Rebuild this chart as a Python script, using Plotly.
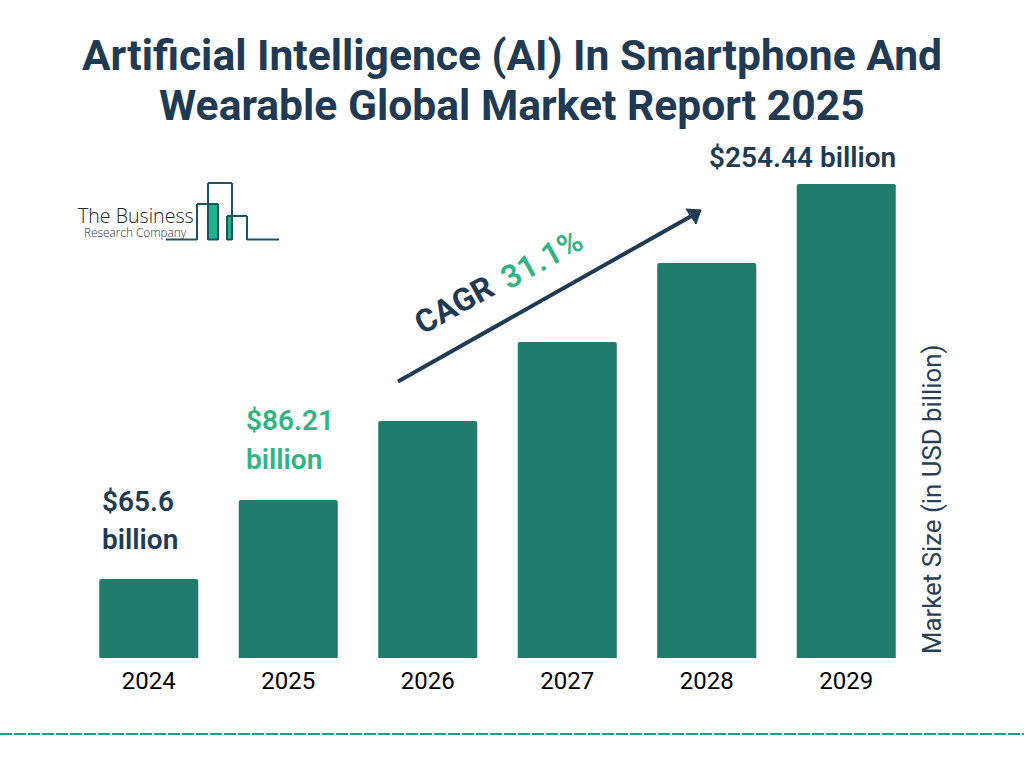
import plotly.graph_objects as go

W, H = 1024, 768

years = ["2024", "2025", "2026", "2027", "2028", "2029"]
# bars in the picture are evenly stepped, not to scale with the labels
bar_heights = [79, 158, 237, 316, 395, 474]
title_lines = ["Artificial Intelligence (AI) In Smartphone And", "Wearable Global Market Report 2025"]
label_2024 = ["$65.6", "billion"]
label_2025 = ["$86.21", "billion"]
label_2029 = "$254.44 billion"
cagr_word = "CAGR"
cagr_value = "31.1%"
y_title = "Market Size (in USD billion)"

NAVY = "#203a54"
BAR = "#217c6b"
GREEN = "#2fb585"
LOGO = "#1f5163"
FONT = "Roboto"


def px(x):
    return x / W


def py(y):
    return 1 - y / H


def text(x, y, s, size, color=NAVY, weight="normal", anchor="center", angle=0, family=FONT):
    return dict(
        x=px(x), y=py(y), xref="paper", yref="paper", text=s, showarrow=False,
        xanchor=anchor, yanchor="middle", textangle=angle,
        font=dict(family=family, size=size, color=color, weight=weight),
    )


def line(x0, y0, x1, y1, color, width):
    return dict(
        type="line", xref="paper", yref="paper",
        x0=px(x0), y0=py(y0), x1=px(x1), y1=py(y1),
        line=dict(color=color, width=width),
    )


def block(x0, y0, x1, y1, color):
    return dict(
        type="rect", xref="paper", yref="paper",
        x0=px(x0), y0=py(y0), x1=px(x1), y1=py(y1),
        fillcolor=color, line=dict(width=0),
    )


fig = go.Figure(go.Bar(
    x=years, y=bar_heights,
    marker=dict(color=BAR, cornerradius=2, line=dict(width=0)),
    hoverinfo="skip",
))

annotations = [
    text(512, 55, title_lines[0], 42.6, weight="bold"),
    text(512, 105, title_lines[1], 42.6, weight="bold"),
    text(100, 501, label_2024[0], 28, weight=600, anchor="left"),
    text(100, 539.5, label_2024[1], 28, weight=600, anchor="left"),
    text(244, 420, label_2025[0], 28, color=GREEN, weight=600, anchor="left"),
    text(244, 459, label_2025[1], 28, color=GREEN, weight=600, anchor="left"),
    text(802, 158, label_2029, 28, weight=600),
    text(454, 305, cagr_word, 32, weight="bold", angle=-29),
    text(542, 259, cagr_value, 32, color=GREEN, weight=600, angle=-29),
    text(932, 499, y_title, 25.8, color="#2a3f55", angle=-90),
    # logo wording
    text(76, 215.5, "The Business", 19.6, color="#222222", weight=300, anchor="left", family="Open Sans"),
    text(82, 232, "Research Company", 11.8, color="#333333", weight=300, anchor="left", family="Open Sans"),
]

shapes = [
    # footer rule
    dict(type="line", xref="paper", yref="paper", x0=0, x1=1, y0=py(734), y1=py(734),
         line=dict(color="#1fa08f", width=2, dash="12px,2px")),
    # CAGR arrow
    line(398, 381.5, 695, 214, NAVY, 4),
    dict(type="path", xref="paper", yref="paper",
         path=f"M {px(701)} {py(210)} L {px(686)} {py(209)} L {px(696)} {py(224)} Z",
         fillcolor=NAVY, line=dict(color=NAVY, width=1)),
    # logo
    block(208, 204, 218, 239, "#1db48a"),
    block(227, 216, 232, 239, "#1db48a"),
    line(166, 239.5, 197, 239.5, LOGO, 2),
    line(197, 240, 197, 204, LOGO, 2),
    line(197, 204, 218, 204, LOGO, 2),
    line(218, 204, 218, 240, LOGO, 2),
    line(208, 240, 208, 183, LOGO, 2),
    line(208, 183, 232, 183, LOGO, 2),
    line(232, 183, 232, 240, LOGO, 2),
    line(208, 239.5, 218, 239.5, LOGO, 2),
    line(227, 240, 227, 216, LOGO, 2),
    line(227, 216, 247, 216, LOGO, 2),
    line(247, 216, 247, 240, LOGO, 2),
    line(227, 239.5, 232, 239.5, LOGO, 2),
    line(247, 239.5, 279, 239.5, LOGO, 2),
]

fig.update_layout(
    width=W, height=H,
    margin=dict(l=0, r=0, t=0, b=0),
    paper_bgcolor="white", plot_bgcolor="white",
    showlegend=False, bargap=0.29,
    annotations=annotations, shapes=shapes,
    xaxis=dict(
        domain=[px(79), px(916)], type="category", showgrid=False, showline=False,
        ticks="", ticklabelstandoff=6,
        tickfont=dict(family=FONT, size=24, color="#000000"),
    ),
    yaxis=dict(
        domain=[py(658), py(184)], range=[0, max(bar_heights)],
        visible=False, showgrid=False,
    ),
)

fig.write_html(
    "out.html",
    config=dict(displayModeBar=False),
    post_script="document.body.style.margin='0';document.body.style.overflow='hidden';",
)
